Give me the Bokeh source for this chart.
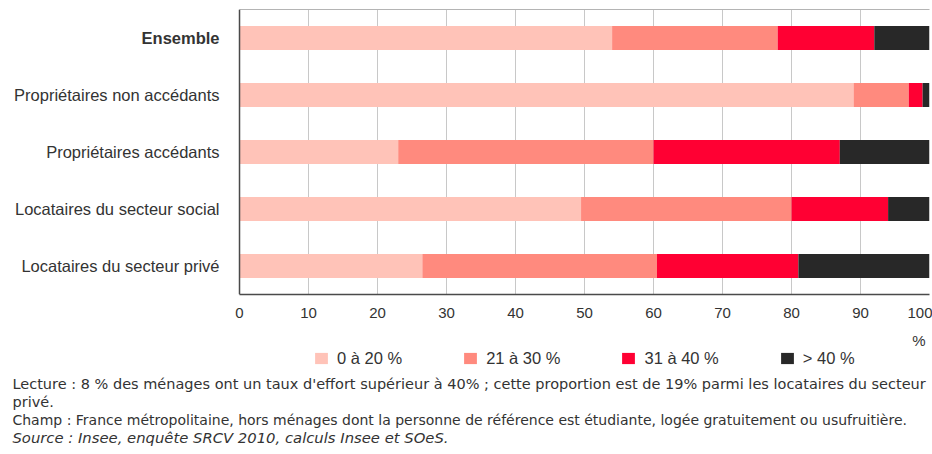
from bokeh.plotting import figure
from bokeh.models import (ColumnDataSource, FactorRange, Range1d, Legend, LegendItem,
                          Span, LinearAxis, FixedTicker)
from bokeh.layouts import column
from bokeh.core.properties import value
from bokeh.embed import file_html
from bokeh.resources import INLINE

categories = ["Ensemble", "Propriétaires non accédants", "Propriétaires accédants",
              "Locataires du secteur social", "Locataires du secteur privé"]
label_styles = ["bold", "normal", "normal", "normal", "normal"]
s_0_20 = [54, 89, 23, 49.5, 26.5]
s_21_30 = [24, 8, 37, 30.5, 34]
s_31_40 = [14, 2, 27, 14, 20.5]
s_40 = [8, 1, 13, 6, 19]
series_names = ["0 à 20 %", "21 à 30 %", "31 à 40 %", "> 40 %"]
colors = ["#FFC3B8", "#FF8A7E", "#FF0033", "#282828"]
x_ticks = [0, 10, 20, 30, 40, 50, 60, 70, 80, 90, 100]
unit_label = "%"
notes = [
    "Lecture : 8 % des ménages ont un taux d'effort supérieur à 40% ; cette proportion est de 19% parmi les locataires du secteur",
    "privé.",
    "Champ : France métropolitaine, hors ménages dont la personne de référence est étudiante, logée gratuitement ou usufruitière.",
    "Source : Insee, enquête SRCV 2010, calculs Insee et SOeS.",
]
note_styles = ["normal", "normal", "normal", "italic"]
note_sizes = ["14.5px", "14.5px", "14px", "14.8px"]

FONT = "Liberation Sans"
NOTE_FONT = "DejaVu Sans"
TXT = "#333333"
W = 932
H1 = 330
H2 = 124

keys = ["a", "b", "c", "d"]
src = ColumnDataSource(dict(cat=categories, style=label_styles,
                            a=s_0_20, b=s_21_30, c=s_31_40, d=s_40))


def plain_axis(ax):
    ax.major_tick_line_color = None
    ax.minor_tick_line_color = None
    ax.major_tick_in = 0
    ax.major_tick_out = 0
    ax.minor_tick_in = 0
    ax.minor_tick_out = 0
    ax.axis_label = None
    ax.axis_label_standoff = 0


# ---------------- chart ----------------
factors = list(reversed(categories))
p = figure(width=W, height=H1, output_backend="svg", toolbar_location=None,
           y_range=FactorRange(factors=factors, range_padding=0),
           x_range=Range1d(-34.64, 100), y_axis_location=None,
           min_border_left=0, min_border_right=3, min_border_top=9, min_border_bottom=36)
p.title = None
p.outline_line_color = None

rs = p.hbar_stack(keys, y="cat", height=0.42, color=colors, line_color=None, source=src)

p.text(x=0, y="cat", text="cat", source=src, x_offset=-20, text_align="right",
       text_baseline="middle", text_font=value(FONT), text_font_size=value("16.5px"),
       text_font_style="style", text_color=TXT)

p.ygrid.grid_line_color = None
p.xgrid.ticker = x_ticks
p.xgrid.grid_line_color = "#c8c8c8"
p.xgrid.grid_line_width = 1

p.add_layout(Span(location=0, dimension="height", line_color="#4a4a4a", line_width=1.5))

xa = p.xaxis[0]
plain_axis(xa)
xa.ticker = x_ticks
xa.bounds = (0, 100)
xa.axis_line_color = "#4a4a4a"
xa.axis_line_width = 1.5
xa.major_label_text_font = FONT
xa.major_label_text_color = TXT
xa.major_label_text_font_size = "15px"
xa.major_label_standoff = 13

top = LinearAxis(ticker=FixedTicker(ticks=[]), bounds=(0, 100), axis_line_color="#b4b4b4",
                 major_label_standoff=0)
plain_axis(top)
p.add_layout(top, "above")

# ---------------- legend + notes ----------------
q = figure(width=W, height=H2, output_backend="svg", toolbar_location=None,
           x_range=Range1d(0, W), y_range=Range1d(H2, 0),
           x_axis_location=None, y_axis_location=None,
           min_border_left=0, min_border_right=0, min_border_top=0, min_border_bottom=0)
q.title = None
q.outline_line_color = None
q.grid.visible = False

q.text(x=[W - 4], y=[10], text=[unit_label], text_align="right", text_baseline="middle",
       text_font=value(FONT), text_font_size=value("15px"), text_color=TXT)

# zero-size proxy glyphs that only carry the legend swatches
proxies = [q.hbar(y=[0], left=[0], right=[0], height=0, color=c, line_color=None)
           for c in colors]
legend = Legend(items=[LegendItem(label=n, renderers=[r]) for n, r in zip(series_names, proxies)],
                orientation="horizontal", location=(313, 86.5), padding=0, margin=0, spacing=60,
                glyph_width=16, glyph_height=14, label_standoff=8,
                label_text_font=FONT, label_text_font_size="16.5px", label_text_color=TXT,
                border_line_color=None, background_fill_alpha=0)
q.add_layout(legend)

note_src = ColumnDataSource(dict(text=notes, style=note_styles, size=note_sizes,
                                 y=[53, 71.5, 89.5, 107]))
q.text(x=12, y="y", text="text", source=note_src, text_baseline="middle",
       text_font=value(NOTE_FONT), text_font_size="size", text_font_style="style",
       text_color=TXT)

open("out.html", "w").write(file_html(column(p, q), INLINE))
